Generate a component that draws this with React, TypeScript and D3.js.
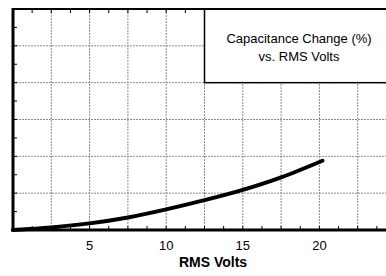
import React, { useEffect, useRef } from 'react';
import * as d3 from 'd3';

// RMS volts vs capacitance change (grid units)
const volts = [0, 2.5, 5, 7.5, 10, 12.5, 15, 17.5, 20.2];
const capChange = [0, 0.07, 0.18, 0.34, 0.56, 0.81, 1.09, 1.43, 1.88];
const xTickLabels = [5, 10, 15, 20];
const xGrid = [2.5, 5, 7.5, 10, 12.5, 15, 17.5, 20, 22.5];
const yGrid = [1, 2, 3, 4, 5];
const titleLines = ['Capacitance Change (%)', 'vs. RMS Volts'];
const xTitle = 'RMS Volts';

const App = () => {
  const ref = useRef<SVGSVGElement>(null);

  useEffect(() => {
    const svg = d3.select(ref.current);
    svg.selectAll('*').remove();

    const x = d3.scaleLinear().domain([0, 25]).range([13, 396]);
    const y = d3.scaleLinear().domain([0, 6]).range([230, 9]);
    const font = 'Arial, "Liberation Sans", sans-serif';

    // grid
    svg
      .selectAll('.vgrid')
      .data(xGrid)
      .enter()
      .append('line')
      .attr('x1', (d) => x(d))
      .attr('x2', (d) => x(d))
      .attr('y1', y(6))
      .attr('y2', y(0))
      .attr('stroke', '#8c8c8c')
      .attr('stroke-width', 1)
      .attr('stroke-dasharray', '2 1');

    svg
      .selectAll('.hgrid')
      .data(yGrid)
      .enter()
      .append('line')
      .attr('x1', x(0))
      .attr('x2', x(25))
      .attr('y1', (d) => y(d))
      .attr('y2', (d) => y(d))
      .attr('stroke', '#8c8c8c')
      .attr('stroke-width', 1)
      .attr('stroke-dasharray', '2 1');

    // minor ticks
    const minorX = d3.range(1.25, 25, 1.25);
    svg
      .selectAll('.btick')
      .data(minorX)
      .enter()
      .append('line')
      .attr('x1', (d) => x(d))
      .attr('x2', (d) => x(d))
      .attr('y1', y(0))
      .attr('y2', y(0) - 4)
      .attr('stroke', '#000');
    svg
      .selectAll('.ttick')
      .data(minorX)
      .enter()
      .append('line')
      .attr('x1', (d) => x(d))
      .attr('x2', (d) => x(d))
      .attr('y1', y(6))
      .attr('y2', y(6) + 4)
      .attr('stroke', '#000');
    svg
      .selectAll('.ltick')
      .data(d3.range(0.5, 6, 0.5))
      .enter()
      .append('line')
      .attr('x1', x(0))
      .attr('x2', x(0) + 4)
      .attr('y1', (d) => y(d))
      .attr('y2', (d) => y(d))
      .attr('stroke', '#000');

    // title box
    svg
      .append('rect')
      .attr('x', x(12.5))
      .attr('y', y(6))
      .attr('width', x(25) - x(12.5) + 10)
      .attr('height', y(4) - y(6))
      .attr('fill', '#fff')
      .attr('stroke', '#000')
      .attr('stroke-width', 1.5);

    svg
      .selectAll('.title')
      .data(titleLines)
      .enter()
      .append('text')
      .attr('x', 299)
      .attr('y', (d, i) => 43 + i * 18)
      .attr('text-anchor', 'middle')
      .attr('font-family', font)
      .attr('font-size', 13)
      .attr('fill', '#000')
      .text((d) => d);

    // frame
    svg
      .append('line')
      .attr('x1', x(0))
      .attr('x2', x(25))
      .attr('y1', y(6))
      .attr('y2', y(6))
      .attr('stroke', '#000')
      .attr('stroke-width', 2);
    svg
      .append('line')
      .attr('x1', x(0))
      .attr('x2', x(0))
      .attr('y1', y(6) - 1)
      .attr('y2', y(0) + 1.5)
      .attr('stroke', '#000')
      .attr('stroke-width', 3);
    svg
      .append('line')
      .attr('x1', x(0) - 1.5)
      .attr('x2', x(25))
      .attr('y1', y(0))
      .attr('y2', y(0))
      .attr('stroke', '#000')
      .attr('stroke-width', 3);

    // curve
    const line = d3
      .line<number>()
      .x((d, i) => x(volts[i]))
      .y((d) => y(d))
      .curve(d3.curveMonotoneX);
    svg
      .append('path')
      .datum(capChange)
      .attr('d', line)
      .attr('fill', 'none')
      .attr('stroke', '#000')
      .attr('stroke-width', 4)
      .attr('stroke-linecap', 'round');

    // x tick labels
    svg
      .selectAll('.xlabel')
      .data(xTickLabels)
      .enter()
      .append('text')
      .attr('x', (d) => x(d))
      .attr('y', 250)
      .attr('text-anchor', 'middle')
      .attr('font-family', font)
      .attr('font-size', 13)
      .attr('fill', '#000')
      .text((d) => d);

    svg
      .append('text')
      .attr('x', 213)
      .attr('y', 267)
      .attr('text-anchor', 'middle')
      .attr('font-family', font)
      .attr('font-size', 14)
      .attr('font-weight', 'bold')
      .attr('fill', '#000')
      .text(xTitle);
  }, []);

  return (
    <div style={{ position: 'fixed', left: 0, top: 0 }}>
      <svg ref={ref} width={386} height={276} style={{ display: 'block', background: '#fff' }} />
    </div>
  );
};

export default App;
